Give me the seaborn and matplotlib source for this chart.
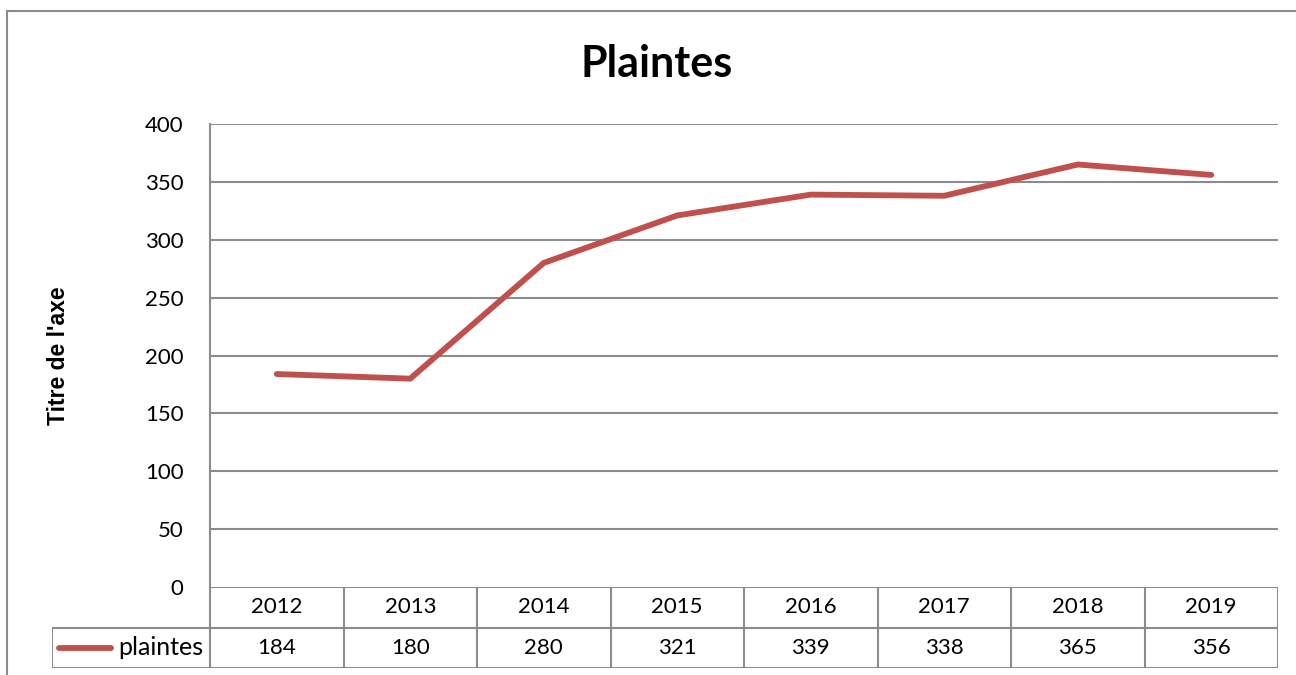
import matplotlib
matplotlib.use("Agg")
import matplotlib.pyplot as plt
import seaborn as sns
import pandas as pd
from matplotlib.patches import Rectangle

# ---- data ----
years = ["2012", "2013", "2014", "2015", "2016", "2017", "2018", "2019"]
plaintes = [184, 180, 280, 321, 339, 338, 365, 356]
yticks = [0, 50, 100, 150, 200, 250, 300, 350, 400]
title = "Plaintes"
ylabel = "Titre de l'axe"
series_name = "plaintes"

sns.set_theme(style="white")
plt.rcParams['font.family'] = ['Lato', 'DejaVu Sans']
plt.rcParams['text.color'] = 'black'

RED = "#C0504D"
GRID = "#8C8C8C"
FS = 16
W, H = 1296, 675
fig = plt.figure(figsize=(W / 100, H / 100), dpi=100)

# outer chart frame (extends beyond picture on right/bottom)
fig.add_artist(Rectangle((7 / W, -0.05), 1.1, (H - 11) / H + 0.05, transform=fig.transFigure,
                         fill=False, edgecolor=GRID, linewidth=1.5))

L, R, T, B = 210, 1278, 124, 587
ax = fig.add_axes([L / W, (H - B) / H, (R - L) / W, (B - T) / H])
df = pd.DataFrame({"x": range(len(years)), "y": plaintes})
sns.lineplot(data=df, x="x", y="y", ax=ax, color=RED, linewidth=4.2,
             solid_capstyle="round", solid_joinstyle="round", zorder=3)
ax.set_xlim(-0.5, len(years) - 0.5)
ax.set_ylim(yticks[0], yticks[-1])
ax.set_yticks(yticks)
ax.set_yticklabels([str(v) for v in yticks], fontsize=FS, color="black")
ax.tick_params(axis="y", length=0, pad=19)
ax.set_xticks([])
ax.set_xlabel("")
ax.set_ylabel(ylabel, fontsize=16.5, fontweight="bold", family="Liberation Sans", color="black")
ax.yaxis.set_label_coords(-140 / (R - L), 0.5)
for y in yticks[1:]:
    ax.axhline(y, color=GRID, linewidth=1.5, zorder=1)
for s in ["top", "right", "bottom"]:
    ax.spines[s].set_visible(False)
ax.spines["left"].set_color(GRID)
ax.spines["left"].set_linewidth(1.5)
fig.text(657 / W, 1 - 77 / H, title, fontsize=31, fontweight="bold", ha="center",
         va="baseline", color="black")

# ---- data table ----
TL, TB = 52, 668
colw = (R - L) / len(years)
legw = (L - TL) / colw
axt = fig.add_axes([TL / W, (H - TB) / H, (R - TL) / W, (TB - B) / H])
axt.set_xlim(-0.5 - legw, len(years) - 0.5)
axt.set_ylim(0, 2)
axt.axis("off")
lk = dict(color=GRID, linewidth=1.5, solid_capstyle="butt")
x0, x1 = -0.5, len(years) - 0.5
axt.plot([x0, x1], [2, 2], **lk)
axt.plot([x0 - legw, x1], [1, 1], **lk)
axt.plot([x0 - legw, x1], [0, 0], **lk)
for i in range(len(years) + 1):
    axt.plot([x0 + i, x0 + i], [0, 2], **lk)
axt.plot([x0 - legw, x0 - legw], [0, 1], **lk)
for i, (yr, v) in enumerate(zip(years, plaintes)):
    axt.text(i, 1.5, yr, ha="center", va="center", fontsize=FS, color="black")
    axt.text(i, 0.5, str(v), ha="center", va="center", fontsize=FS, color="black")
lx0 = x0 - legw + 7 / colw
axt.plot([lx0, lx0 + 52 / colw], [0.5, 0.5], color=RED, linewidth=4.2, solid_capstyle="round")
axt.text(x0 - 7 / colw, 0.5, series_name, ha="right", va="center", fontsize=18, color="black")

fig.savefig("out.png", dpi=100)
